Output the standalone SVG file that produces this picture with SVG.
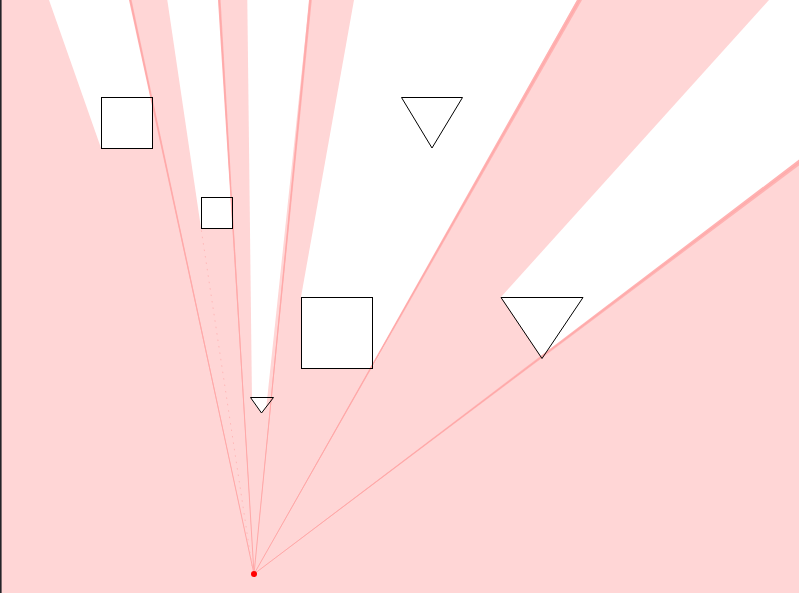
<svg xmlns="http://www.w3.org/2000/svg" width="799" height="593" viewBox="0 0 799 593">
  <style>
    .lit { fill: #ffd6d6; }
    .shadow { fill: #ffffff; }
    .seam { fill: #ffb2b2; }
    .seam-line { stroke: #ffa8a8; stroke-width: 1; fill: none; }
    .faint { stroke: #ffb0b0; stroke-width: 0.8; stroke-dasharray: 1.5 5; fill: none; }
    .obstacle { fill: none; stroke: #000000; stroke-width: 1; }
  </style>
  <g id="light">
    <rect class="lit" x="0" y="0" width="799" height="593"/>
  </g>
  <g id="shadows">
    <polygon class="shadow" points="101,148 49,0 129.5,0 152,97 152,148"/>
    <polygon class="shadow" points="201,228 167.3,0 218.3,0 232,197 232,228"/>
    <polygon class="shadow" points="247.3,0 309.3,0 266.4,405.9 261.5,413 252,400.5"/>
    <polygon class="shadow" points="301,297 354,0 577,0 372,368 301,368"/>
    <polygon class="shadow" points="501,297 769,0 799,0 799,160 542,358"/>
  </g>
  <g id="seams">
    <polygon class="seam" points="254,574 129,0 131.6,0"/>
    <polygon class="seam" points="254,574 218,0 220.6,0"/>
    <polygon class="seam" points="254,574 309,0 311.8,0"/>
    <polygon class="seam" points="254,574 577,0 582,0"/>
    <polygon class="seam" points="254,574 799,159.5 799,165.5"/>
    <line class="seam-line" x1="254" y1="574" x2="130.3" y2="0"/>
    <line class="seam-line" x1="254" y1="574" x2="219.3" y2="0"/>
    <line class="seam-line" x1="254" y1="574" x2="310.4" y2="0"/>
    <line class="seam-line" x1="254" y1="574" x2="579.5" y2="0"/>
    <line class="seam-line" x1="254" y1="574" x2="799" y2="162.5"/>
    <line class="faint" x1="252" y1="566" x2="201" y2="228"/>
  </g>
  <g id="left-border">
    <rect x="0" y="0" width="1.6" height="593" fill="#242428"/>
  </g>
  <g id="square-1"><rect class="obstacle" x="101.5" y="97.5" width="51" height="51"/></g>
  <g id="square-2"><rect class="obstacle" x="201.5" y="197.5" width="31" height="31"/></g>
  <g id="square-3"><rect class="obstacle" x="301.5" y="297.5" width="71" height="71"/></g>
  <g id="triangle-1"><polygon class="obstacle" points="401.5,97.5 462.5,97.5 432,148"/></g>
  <g id="triangle-2"><polygon class="obstacle" points="501,297.5 583,297.5 542,358.5"/></g>
  <g id="triangle-3"><polygon class="obstacle" points="250.5,397.5 273.5,397.5 261.5,413"/></g>
  <g id="source"><circle cx="254" cy="574" r="3" fill="#ff0000"/></g>
  <g id="connectors"/>
</svg>
